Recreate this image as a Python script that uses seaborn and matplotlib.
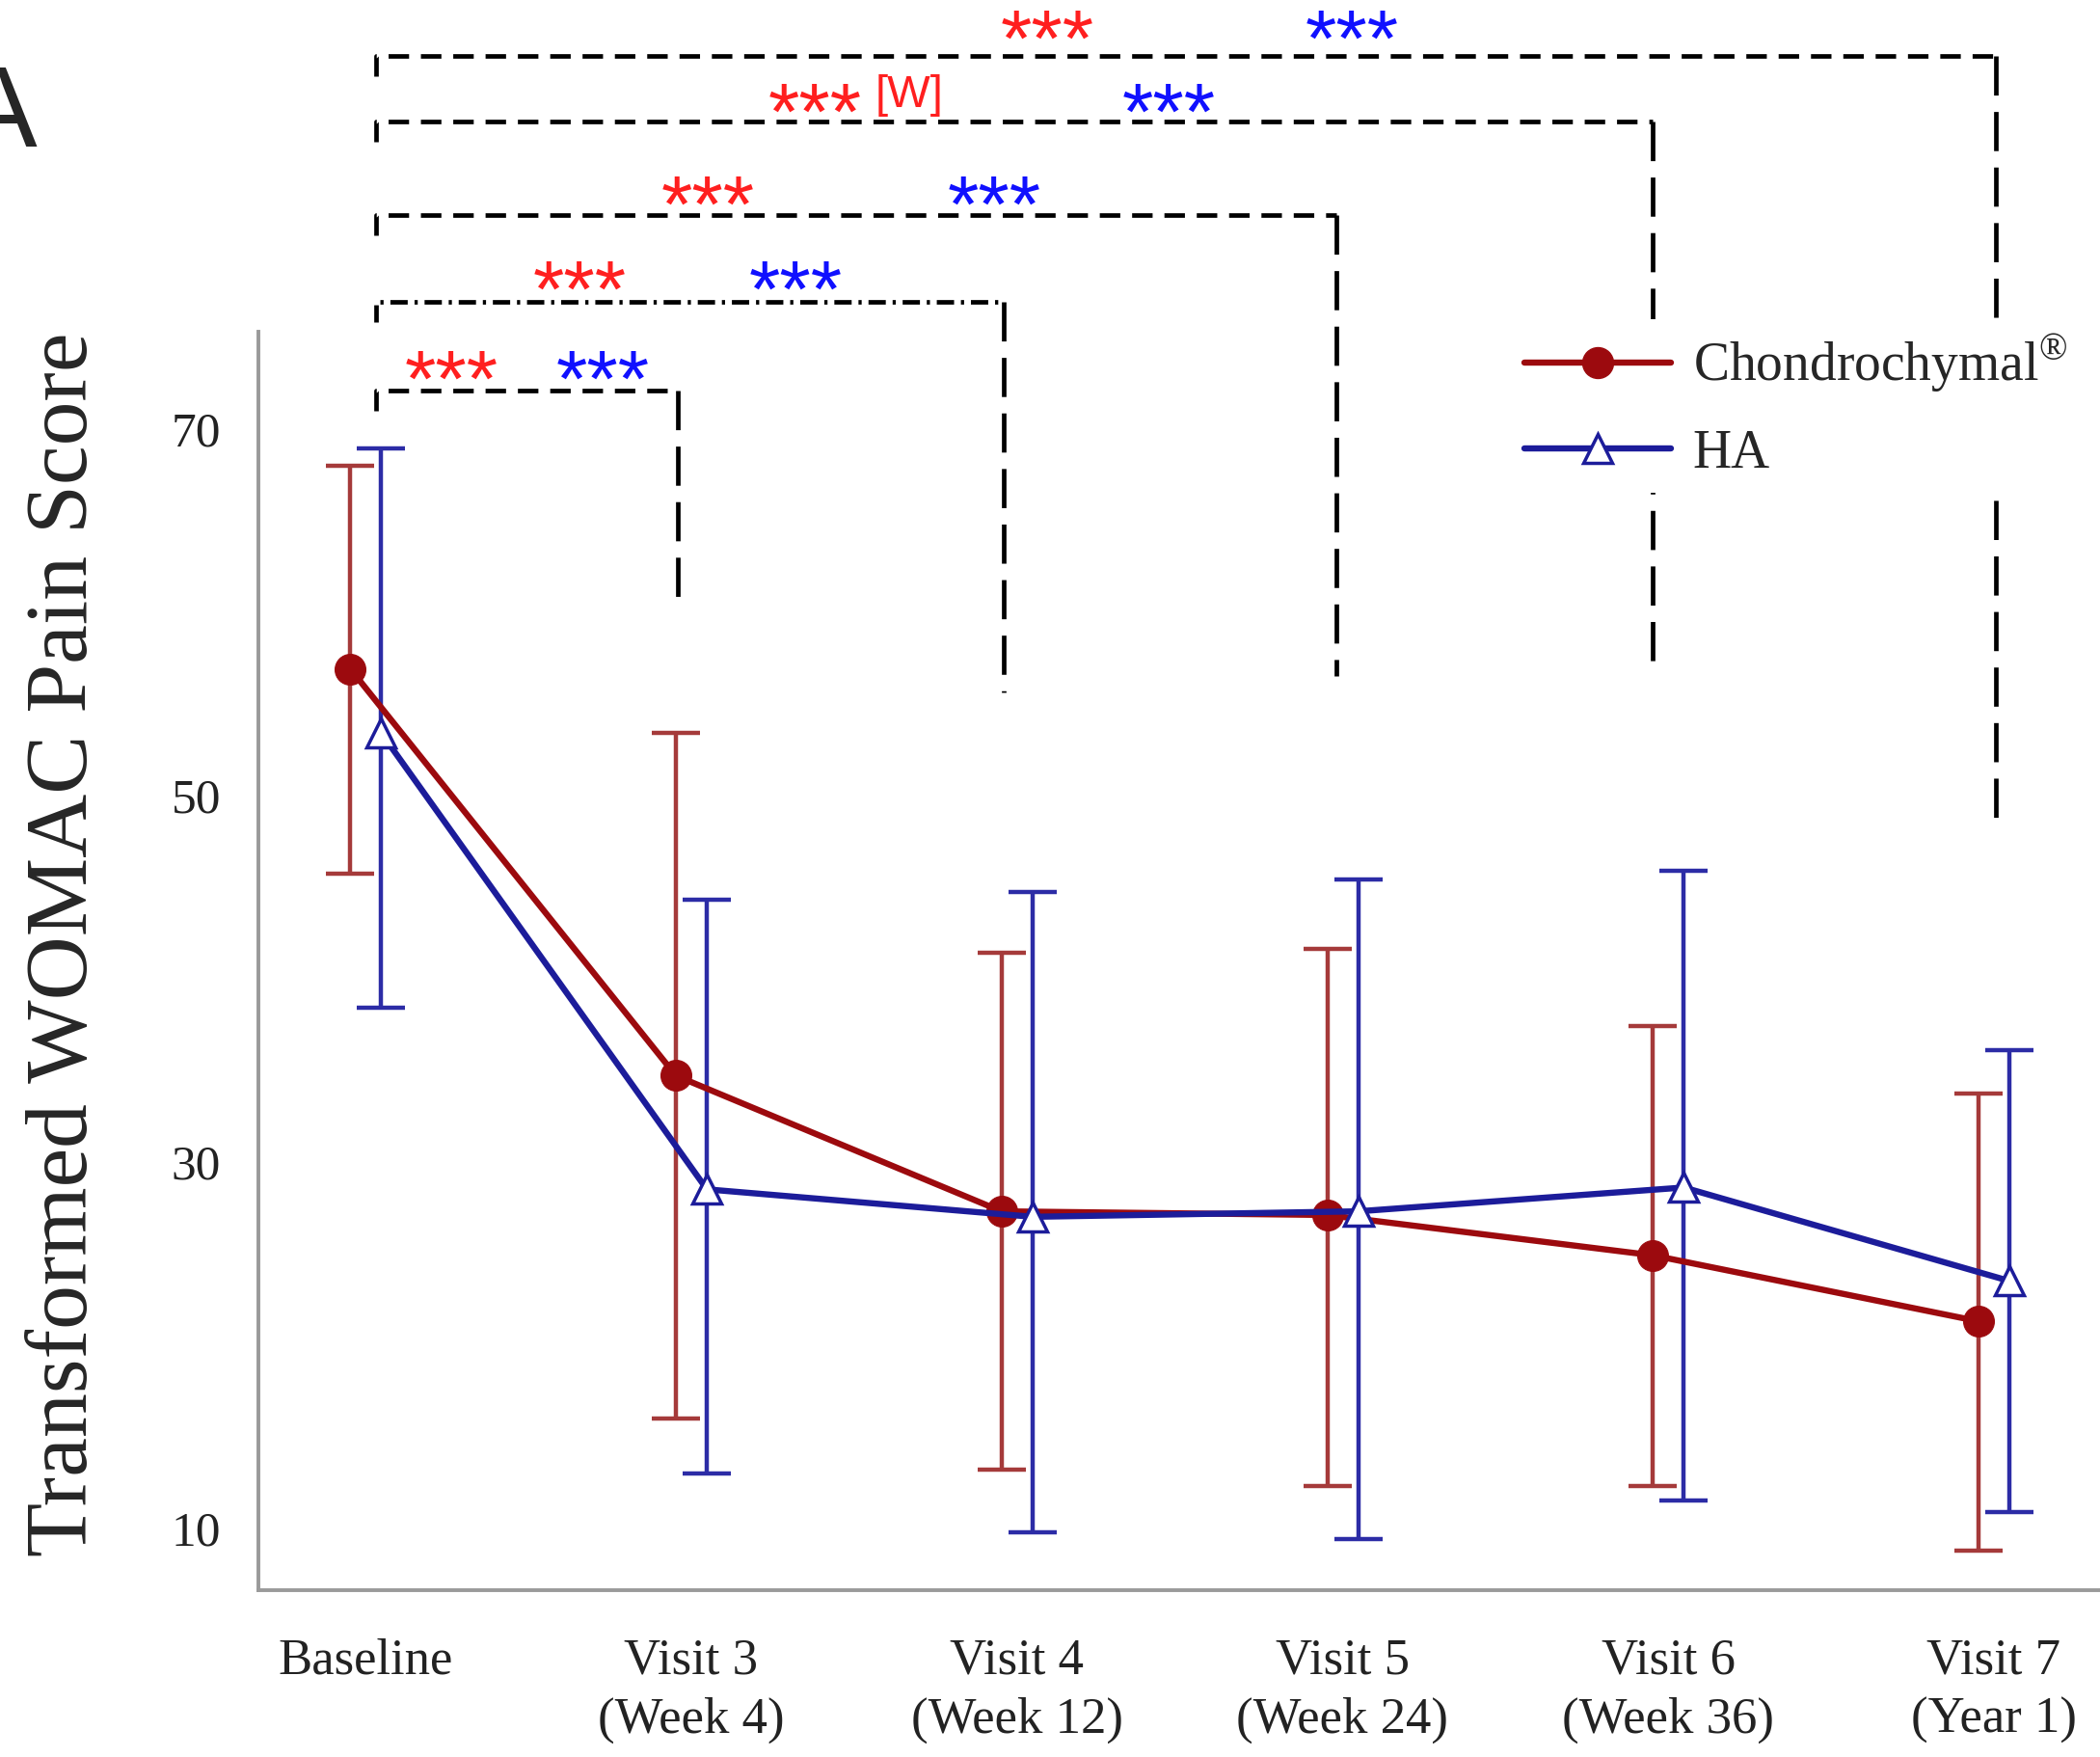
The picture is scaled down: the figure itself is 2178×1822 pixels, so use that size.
import numpy as np
import pandas as pd
import matplotlib
matplotlib.use("Agg")
import matplotlib.pyplot as plt
import seaborn as sns
from matplotlib.lines import Line2D

# ---------------- data ----------------
visits = ["Baseline", "Visit 3\n(Week 4)", "Visit 4\n(Week 12)",
          "Visit 5\n(Week 24)", "Visit 6\n(Week 36)", "Visit 7\n(Year 1)"]
groups = ["Chondrochymal", "HA"]
legend_labels = [r"Chondrochymal$^{\circledR}$", "HA"]

chondro_mean = [56.9, 34.7, 27.3, 27.1, 24.9, 21.3]
chondro_lower = [45.7, 16.0, 13.2, 12.3, 12.3, 8.8]
chondro_upper = [68.0, 53.4, 41.4, 41.6, 37.4, 33.7]

ha_mean = [53.4, 28.5, 27.0, 27.3, 28.6, 23.5]
ha_lower = [38.4, 13.0, 9.8, 9.4, 11.5, 10.9]
ha_upper = [68.9, 44.3, 44.7, 45.4, 45.9, 36.1]

yticks = [10, 30, 50, 70]
ylabel = "Transformed WOMAC Pain Score"

# significance comparisons: baseline vs each later visit
bracket_targets = [1, 2, 3, 4, 5]
sig_red = ["***", "***", "***", "***", "***"]
sig_blue = ["***", "***", "***", "***", "***"]
sig_red_extra = ["", "", "", "[W]", ""]

# ---------------- style ----------------
RED = "#9c0a0e"
RED_ERR = "#a53a3a"
BLUE = "#1c1c9a"
BLUE_ERR = "#2c2ca6"
STAR_RED = "#ff1f1f"
STAR_BLUE = "#1010ff"
SPINE = "#9a9a9a"

sns.set_style("white")
plt.rcParams["font.family"] = ["Liberation Serif", "DejaVu Serif"]
plt.rcParams["mathtext.fontset"] = "custom"
plt.rcParams["mathtext.rm"] = "Liberation Serif"

offsets = {"Chondrochymal": -0.047, "HA": 0.048}

rows = []
for g, m, lo, up in [("Chondrochymal", chondro_mean, chondro_lower, chondro_upper),
                     ("HA", ha_mean, ha_lower, ha_upper)]:
    for i in range(len(visits)):
        rows.append({"group": g, "visit": i, "x": i + offsets[g],
                     "mean": m[i], "lower": lo[i], "upper": up[i]})
df = pd.DataFrame(rows)

fig = plt.figure(figsize=(21.78, 18.22), dpi=100)
ax = fig.add_axes([268 / 2178, 1 - 1649 / 1822, 1 - 268 / 2178, (1649 - 344) / 1822])

sns.lineplot(data=df, x="x", y="mean", hue="group", style="group",
             hue_order=groups, style_order=groups,
             markers={"Chondrochymal": "o", "HA": "^"}, dashes=False,
             palette={"Chondrochymal": RED, "HA": BLUE},
             estimator=None, sort=False, legend=False, linewidth=4.6,
             markersize=23, ax=ax)

line_red, line_ha = ax.lines[0], ax.lines[1]
line_red.set_markerfacecolor(RED)
line_red.set_markeredgecolor(RED)
line_red.set_zorder(4)
line_ha.set_markerfacecolor("white")
line_ha.set_markeredgecolor(BLUE)
line_ha.set_markeredgewidth(2.5)
line_ha.set_markersize(22)
line_ha.set_zorder(5)

for g, ec in [("Chondrochymal", RED_ERR), ("HA", BLUE_ERR)]:
    d = df[df["group"] == g]
    ax.errorbar(d["x"], d["mean"],
                yerr=np.vstack([d["mean"] - d["lower"], d["upper"] - d["mean"]]),
                fmt="none", ecolor=ec, elinewidth=3.2, capsize=18, capthick=3.2,
                zorder=2)

ax.set_xlim(-0.329, 5.326)
ax.set_ylim(6.63, 75.29)
ax.set_xticks(range(len(visits)))
ax.set_xticklabels(visits, linespacing=1.35)
ax.set_yticks(yticks)
ax.set_xlabel("")
ax.set_ylabel(ylabel, fontsize=66, va="center")
ax.yaxis.set_label_coords(-0.105, 0.513)

for s in ["top", "right"]:
    ax.spines[s].set_visible(False)
for s in ["left", "bottom"]:
    ax.spines[s].set_color(SPINE)
    ax.spines[s].set_linewidth(2.8)

ax.tick_params(axis="y", length=18, width=1.6, color=SPINE, pad=10,
               labelsize=37, labelcolor="#222222")
ax.tick_params(axis="x", length=19, width=1.6, color=SPINE, pad=17,
               labelsize=38, labelcolor="#222222")

# ---------------- significance brackets ----------------
bracket_y = [72.08, 76.92, 81.65, 86.76, 90.34]
bracket_right_end = [60.1, 55.6, 56.5, 56.5, 48.1]
bracket_right_dx = [-0.04, -0.04, -0.02, -0.047, 0.006]
bracket_left_x = 0.033
bracket_drop = 1.1
bracket_styles = [(0, (4.5, 2.6)), (0, (3.8, 1.5, 0.7, 1.5)), (0, (4.5, 2.6)),
                  (0, (4.5, 2.6)), (0, (4.5, 2.6))]
star_y = [72.35, 77.25, 81.9, 86.95, 90.95]
red_x = [0.263, 0.657, 1.051, 1.38, 2.093]
blue_x = [0.728, 1.32, 1.93, 2.466, 3.028]
extra_pos = (1.67, 88.2)

for k, t in enumerate(bracket_targets):
    y = bracket_y[k]
    xr = t + bracket_right_dx[k]
    ax.plot([bracket_left_x, bracket_left_x, xr], [y - bracket_drop, y, y],
            color="black", lw=3.4, ls=bracket_styles[k], clip_on=False, zorder=1)
    ax.plot([xr, xr], [y, bracket_right_end[k]], color="black", lw=3.4,
            ls=(0, (8.6, 3.6)), clip_on=False, zorder=1)
    ax.text(red_x[k], star_y[k], sig_red[k], color=STAR_RED, fontsize=60,
            family="Liberation Sans", ha="center", va="center", clip_on=False)
    ax.text(blue_x[k], star_y[k], sig_blue[k], color=STAR_BLUE, fontsize=60,
            family="Liberation Sans", ha="center", va="center", clip_on=False)
    if sig_red_extra[k]:
        ax.text(extra_pos[0], extra_pos[1], sig_red_extra[k], color=STAR_RED,
                fontsize=34, family="Liberation Sans", ha="center", va="center",
                clip_on=False)

# ---------------- legend ----------------
handles = [Line2D([], [], color=RED, lw=4.6, marker="o", ms=23,
                  mfc=RED, mec=RED),
           Line2D([], [], color=BLUE, lw=4.6, marker="^", ms=22,
                  mfc="white", mec=BLUE, mew=2.5)]
leg = ax.legend(handles, legend_labels, loc="upper left",
                bbox_to_anchor=(0.68, 1.01), frameon=True, facecolor="white",
                edgecolor="none", framealpha=1, fancybox=False,
                borderpad=0.25, borderaxespad=0, handlelength=2.75,
                handletextpad=0.4, labelspacing=0.62,
                prop={"family": "Liberation Serif", "size": 40})
leg.set_zorder(10)

fig.text(-40 / 2178, 1 - 152 / 1822, "A", fontsize=85, family="Liberation Sans",
         ha="left", va="baseline")

fig.savefig("out.png", dpi=100)
